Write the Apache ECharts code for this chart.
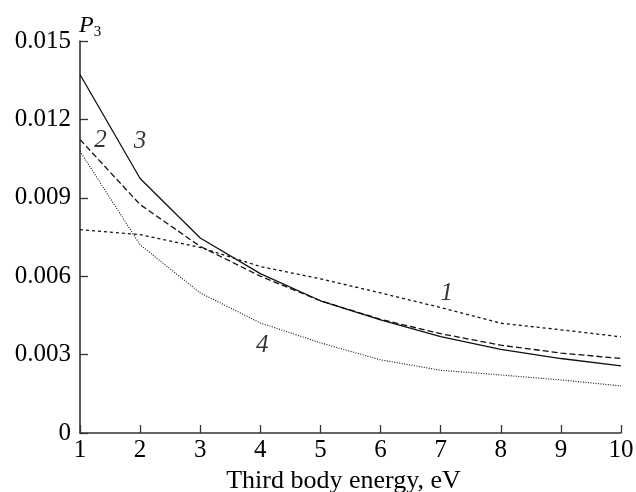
<!DOCTYPE html>
<html><head><meta charset="utf-8">
<script src="https://cdn.jsdelivr.net/npm/echarts@6/dist/echarts.min.js"></script>
<style>html,body{margin:0;padding:0;background:#fff}#c{width:636px;height:492px}</style>
</head><body><div id="c"></div>
<script>
const energy = [1,2,3,4,5,6,7,8,9,10];
const curve1 = [0.00778,0.00759,0.00710,0.00637,0.00590,0.00536,0.00480,0.00420,0.00395,0.00368];
const curve2 = [0.01123,0.00874,0.00714,0.00600,0.00506,0.00435,0.00380,0.00336,0.00306,0.00285];
const curve3 = [0.01372,0.00974,0.00746,0.00610,0.00506,0.00433,0.00369,0.00320,0.00285,0.00257];
const curve4 = [0.01078,0.00720,0.00536,0.00421,0.00345,0.00280,0.00240,0.00222,0.00203,0.00180];
const yTicks = [0,0.003,0.006,0.009,0.012,0.015];
const curveLabels = [
  {text:'1', x:7.1, y:0.00536},
  {text:'2', x:1.34, y:0.0112},
  {text:'3', x:2.0, y:0.01115},
  {text:'4', x:4.03, y:0.00337}
];
const F = 'Liberation Serif';
const mk = (d)=>energy.map((e,i)=>[e,d[i]]);
const chart = echarts.init(document.getElementById('c'));
const col = '#111';
chart.setOption({
  animation:false,
  backgroundColor:'#fff',
  grid:{left:80,right:15,top:41,bottom:59,containLabel:false,outerBoundsMode:'none'},
  xAxis:{type:'value',min:1,max:10,interval:1,
    axisLine:{lineStyle:{color:'#333',width:1.6}},
    axisTick:{inside:true,length:8,lineStyle:{color:'#333',width:1.3}},
    axisLabel:{color:'#000',fontFamily:F,fontSize:25,margin:5},
    splitLine:{show:false},
    name:'Third body energy, eV',nameLocation:'middle',nameGap:34,
    nameTextStyle:{color:'#000',fontFamily:F,fontSize:26,padding:[0,14,0,0]}},
  yAxis:{type:'value',min:0,max:0.015,interval:0.003,
    axisLine:{show:true,lineStyle:{color:'#333',width:1.6}},
    axisTick:{show:true,inside:true,length:8,lineStyle:{color:'#333',width:1.3}},
    axisLabel:{color:'#000',fontFamily:F,fontSize:25,margin:9,
      formatter:v=>{const t=yTicks.find(x=>Math.abs(x-v)<1e-9);return t===0?'0':(t!==undefined?t.toFixed(3):'');}},
    splitLine:{show:false}},
  graphic:[{type:'text',left:79,top:14,style:{
    text:'{p|P}{s|3}',
    rich:{p:{fontFamily:F,fontStyle:'italic',fontSize:24,fill:'#000'},
          s:{fontFamily:F,fontSize:15,fill:'#000',padding:[12,0,0,0]}}}}],
  series:[
    {type:'line',data:mk(curve1),symbol:'none',lineStyle:{color:col,width:1.3,type:[3,3]}},
    {type:'line',data:mk(curve2),symbol:'none',lineStyle:{color:col,width:1.3,type:[6,3]}},
    {type:'line',data:mk(curve3),symbol:'none',lineStyle:{color:col,width:1.3,type:'solid'}},
    {type:'line',data:mk(curve4),symbol:'none',lineStyle:{color:col,width:1.1,type:[1,1.5]}},
    {type:'scatter',data:curveLabels.map(l=>[l.x,l.y,l.text]),symbolSize:0,
      label:{show:true,position:'inside',formatter:p=>p.data[2],fontFamily:F,fontStyle:'italic',fontSize:25,color:'#000'}}
  ]
});
</script></body></html>
